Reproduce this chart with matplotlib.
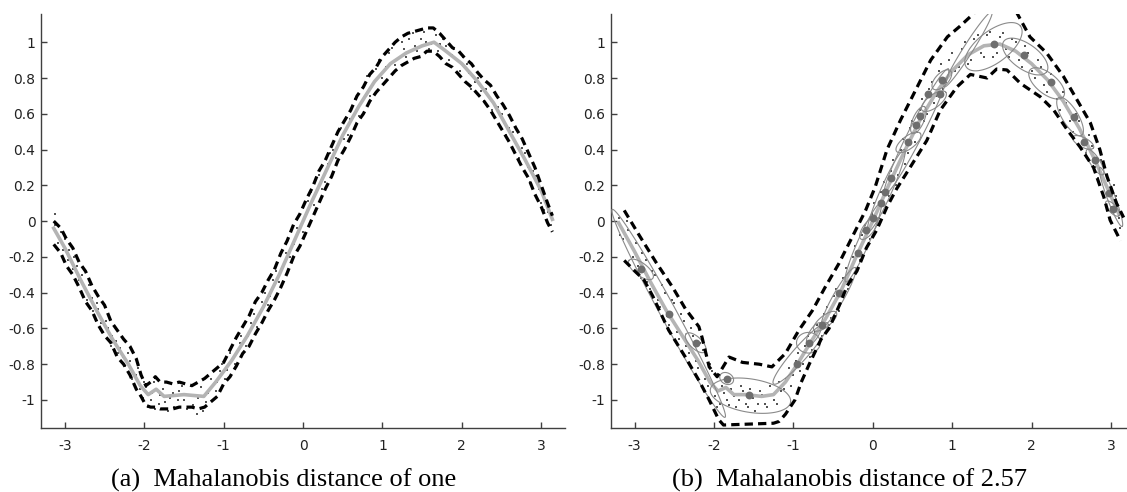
import numpy as np
import matplotlib
matplotlib.use("Agg")
import matplotlib.pyplot as plt

plt.rcParams['axes.unicode_minus'] = False

# ---- panel (a): Mahalanobis distance of one ----
xa = [-3.14, -3.0, -2.8, -2.6, -2.4, -2.2, -2.05, -1.95, -1.85, -1.75, -1.5, -1.25,
      -1.1, -0.9, -0.7, -0.5, -0.3, -0.1, 0.1, 0.3, 0.5, 0.7, 0.9, 1.1, 1.3, 1.5,
      1.65, 1.8, 2.0, 2.2, 2.4, 2.6, 2.8, 3.0, 3.14]
mean_a = [-0.04, -0.15, -0.33, -0.50, -0.66, -0.80, -0.92, -0.97, -0.94, -0.98, -0.97, -0.98,
          -0.90, -0.78, -0.64, -0.48, -0.30, -0.10, 0.10, 0.29, 0.48, 0.64, 0.78, 0.88, 0.94, 0.98,
          1.00, 0.95, 0.88, 0.78, 0.66, 0.50, 0.34, 0.17, 0.01]

env_a_x = [-3.14, -3.05, -2.98, -2.9, -2.82, -2.74, -2.66, -2.58, -2.5, -2.42, -2.34, -2.26,
           -2.18, -2.1, -2.04, -1.98, -1.92, -1.86, -1.8, -1.72, -1.64, -1.56, -1.48, -1.4,
           -1.32, -1.24, -1.16, -1.08, -1.0, -0.92, -0.84, -0.76, -0.68, -0.6, -0.52, -0.44,
           -0.36, -0.28, -0.2, -0.12, -0.04, 0.04, 0.12, 0.2, 0.28, 0.36, 0.44, 0.52, 0.6, 0.68,
           0.76, 0.84, 0.92, 1.0, 1.08, 1.16, 1.24, 1.32, 1.4, 1.48, 1.56, 1.64, 1.72, 1.8,
           1.88, 1.96, 2.04, 2.12, 2.2, 2.28, 2.36, 2.44, 2.52, 2.6, 2.68, 2.76, 2.84, 2.92,
           3.0, 3.08, 3.14]
upper_a = [0.0, -0.04, -0.10, -0.15, -0.23, -0.28, -0.36, -0.42, -0.47, -0.56, -0.61, -0.66,
           -0.70, -0.77, -0.86, -0.92, -0.90, -0.87, -0.90, -0.90, -0.91, -0.90, -0.91, -0.92,
           -0.90, -0.88, -0.85, -0.82, -0.79, -0.72, -0.65, -0.59, -0.53, -0.45, -0.40, -0.33,
           -0.27, -0.18, -0.11, -0.02, 0.04, 0.12, 0.19, 0.28, 0.34, 0.42, 0.50, 0.56, 0.62, 0.70,
           0.75, 0.82, 0.86, 0.92, 0.96, 1.00, 1.03, 1.05, 1.06, 1.07, 1.08, 1.08, 1.05, 1.01,
           0.97, 0.95, 0.91, 0.88, 0.83, 0.79, 0.76, 0.70, 0.65, 0.59, 0.52, 0.46, 0.38, 0.30,
           0.20, 0.10, 0.03]
lower_a = [-0.13, -0.18, -0.25, -0.30, -0.37, -0.45, -0.50, -0.58, -0.64, -0.68, -0.76, -0.80,
           -0.86, -0.94, -0.98, -1.03, -1.04, -1.04, -1.05, -1.05, -1.05, -1.04, -1.04, -1.04,
           -1.05, -1.04, -1.01, -0.98, -0.91, -0.87, -0.81, -0.74, -0.70, -0.63, -0.57, -0.50,
           -0.44, -0.37, -0.29, -0.20, -0.14, -0.06, 0.02, 0.10, 0.18, 0.25, 0.34, 0.40, 0.47, 0.55,
           0.60, 0.67, 0.72, 0.76, 0.80, 0.84, 0.87, 0.89, 0.91, 0.92, 0.95, 0.95, 0.92, 0.88,
           0.86, 0.82, 0.78, 0.75, 0.71, 0.67, 0.62, 0.56, 0.50, 0.44, 0.37, 0.30, 0.24, 0.15,
           0.08, -0.01, -0.06]

dots_a_x = [-3.13, -3.10, -3.05, -3.02, -2.95, -2.90, -2.85, -2.78, -2.72, -2.66, -2.60, -2.55,
            -2.48, -2.42, -2.35, -2.30, -2.24, -2.18, -2.12, -2.08, -2.02, -1.98, -1.92, -1.88,
            -1.82, -1.76, -1.70, -1.64, -1.58, -1.52, -1.46, -1.40, -1.34, -1.28, -1.22, -1.16,
            -1.10, -1.04, -0.98, -0.92, -0.86, -0.80, -0.72, -0.66, -0.58, -0.52, -0.44, -0.38,
            -0.30, -0.22, -0.16, -0.08, 0.0, 0.06, 0.14, 0.20, 0.28, 0.34, 0.42, 0.48, 0.56, 0.62,
            0.70, 0.76, 0.84, 0.92, 1.00, 1.08, 1.16, 1.24, 1.30, 1.38, 1.44, 1.52, 1.58, 1.64,
            1.70, 1.76, 1.84, 1.90, 1.98, 2.06, 2.12, 2.20, 2.28, 2.34, 2.42, 2.50, 2.56, 2.64,
            2.72, 2.80, 2.86, 2.94, 3.00, 3.06, 3.12,
            -3.12, -3.08, -3.00, -2.96, -2.88, -2.82, -2.76, -2.70, -2.64, -2.58, -2.52, -2.46,
            -2.40, -2.33, -2.27, -2.21, -2.15, -2.10, -2.05, -2.00, -1.95, -1.90, -1.86, -1.80,
            -1.74, -1.68, -1.62, -1.56, -1.50, -1.44, -1.38, -1.32, -1.26, -1.20, -1.14, -1.08,
            -1.02, -0.96, -0.90, -0.84, -0.78, -0.69, -0.62, -0.55, -0.48, -0.41, -0.34, -0.26,
            -0.12, 0.03, 0.10, 0.24, 0.31, 0.38, 0.45, 0.52, 0.59, 0.66, 0.73, 0.80, 0.88, 0.96,
            1.04, 1.12, 1.20, 1.27, 1.34, 1.41, 1.48, 1.55, 1.61, 1.67, 1.73, 1.80, 1.87, 1.94,
            2.02, 2.09, 2.16, 2.24, 2.31, 2.38, 2.46, 2.53, 2.60, 2.68, 2.76, 2.83, 2.90, 2.97,
            3.03, 3.09]
dots_a_y = [0.04, -0.07, -0.06, -0.16, -0.16, -0.27, -0.25, -0.30, -0.44, -0.43, -0.46, -0.57,
            -0.56, -0.70, -0.67, -0.71, -0.81, -0.78, -0.93, -0.82, -0.99, -0.93, -1.00, -0.90,
            -1.02, -0.94, -1.06, -0.96, -1.00, -0.92, -1.05, -0.98, -1.08, -0.93, -1.01, -0.88,
            -0.95, -0.84, -0.88, -0.74, -0.80, -0.68, -0.70, -0.57, -0.59, -0.45, -0.47, -0.33,
            -0.34, -0.18, -0.20, -0.04, -0.06, 0.11, 0.09, 0.26, 0.22, 0.38, 0.35, 0.52, 0.48, 0.63,
            0.59, 0.75, 0.70, 0.85, 0.80, 0.94, 0.87, 1.00, 0.92, 1.05, 0.95, 1.06, 0.96, 1.08,
            0.95, 1.02, 0.90, 0.96, 0.84, 0.88, 0.74, 0.80, 0.67, 0.70, 0.58, 0.60, 0.48, 0.50,
            0.35, 0.38, 0.22, 0.25, 0.10, 0.12, -0.02,
            -0.02, -0.12, -0.10, -0.22, -0.20, -0.33, -0.37, -0.36, -0.50, -0.49, -0.62, -0.60,
            -0.64, -0.74, -0.76, -0.74, -0.88, -0.86, -0.94, -0.90, -1.04, -0.96, -1.05, -0.97,
            -1.01, -0.99, -1.04, -0.95, -1.00, -0.97, -1.03, -0.99, -1.06, -0.96, -0.92, -0.90,
            -0.80, -0.83, -0.77, -0.74, -0.64, -0.64, -0.52, -0.52, -0.40, -0.42, -0.28, -0.27,
            -0.13, 0.02, 0.16, 0.18, 0.32, 0.40, 0.43, 0.46, 0.57, 0.68, 0.66, 0.81, 0.76, 0.90,
            0.86, 0.97, 0.91, 0.96, 1.02, 0.98, 1.02, 1.00, 0.99, 1.04, 0.99, 0.98, 0.93, 0.90,
            0.92, 0.83, 0.78, 0.73, 0.74, 0.62, 0.64, 0.55, 0.52, 0.43, 0.41, 0.30, 0.28, 0.18,
            0.06, 0.05]

# ---- panel (b): Mahalanobis distance of 2.57 ----
xb = [-3.20, -3.0, -2.8, -2.6, -2.4, -2.2, -2.05, -1.95, -1.85, -1.75, -1.6, -1.4, -1.25,
      -1.1, -0.95, -0.8, -0.6, -0.4, -0.2, 0.0, 0.2, 0.4, 0.6, 0.8, 1.0, 1.2, 1.4, 1.6, 1.8,
      2.0, 2.2, 2.4, 2.6, 2.8, 3.0, 3.1]
mean_b = [-0.01, -0.17, -0.34, -0.50, -0.64, -0.78, -0.90, -0.95, -0.93, -0.97, -0.97, -0.98,
          -0.97, -0.90, -0.80, -0.69, -0.55, -0.39, -0.19, 0.0, 0.20, 0.39, 0.57, 0.72, 0.84,
          0.93, 0.98, 0.99, 0.95, 0.88, 0.79, 0.67, 0.52, 0.34, 0.14, 0.04]

upper_b_x = [-3.13, -2.94, -2.73, -2.52, -2.36, -2.19, -2.15, -2.06, -1.96, -1.81, -1.64, -1.43,
             -1.27, -1.10, -0.93, -0.76, -0.60, -0.43, -0.26, -0.09, 0.03, 0.18, 0.35, 0.56, 0.73,
             0.94, 1.10, 1.27, 1.35, 1.75, 1.82, 1.98, 2.19, 2.40, 2.57, 2.74, 2.86, 2.95, 3.07, 3.16]
upper_b_y = [0.06, -0.08, -0.23, -0.37, -0.49, -0.59, -0.65, -0.815, -0.87, -0.76, -0.79, -0.80,
             -0.815, -0.74, -0.61, -0.50, -0.37, -0.24, -0.09, 0.06, 0.19, 0.40, 0.565, 0.75, 0.90,
             1.03, 1.09, 1.16, 1.22, 1.22, 1.16, 1.03, 0.94, 0.81, 0.68, 0.55, 0.40, 0.25, 0.10, 0.02]
lower_b_x = [-3.13, -2.88, -2.77, -2.57, -2.36, -2.19, -2.06, -1.94, -1.88, -1.25, -1.18, -1.10,
             -0.98, -0.90, -0.80, -0.65, -0.55, -0.42, -0.32, -0.20, -0.08, 0.05, 0.18, 0.30, 0.47,
             0.68, 0.85, 1.06, 1.23, 1.44, 1.56, 1.69, 1.86, 2.11, 2.28, 2.45, 2.61, 2.78, 2.91,
             2.99, 3.12]
lower_b_y = [-0.22, -0.33, -0.42, -0.61, -0.76, -0.89, -1.0, -1.11, -1.14, -1.13, -1.12, -1.08,
             -1.0, -0.90, -0.80, -0.66, -0.60, -0.47, -0.36, -0.28, -0.15, -0.05, 0.08, 0.18, 0.30,
             0.45, 0.62, 0.75, 0.82, 0.80, 0.85, 0.845, 0.77, 0.695, 0.62, 0.51, 0.415, 0.30,
             0.135, 0.005, -0.11]

dots_b_x = [-3.20, -3.15, -3.08, -3.02, -2.98, -2.92, -2.86, -2.80, -2.74, -2.68, -2.62, -2.56,
            -2.50, -2.44, -2.38, -2.32, -2.26, -2.20, -2.14, -2.08, -2.02, -1.96, -1.90, -1.84,
            -1.78, -1.72, -1.66, -1.60, -1.54, -1.48, -1.42, -1.36, -1.30, -1.24, -1.18, -1.12,
            -1.06, -1.00, -0.94, -0.88, -0.82, -0.76, -0.70, -0.64, -0.58, -0.52, -0.46, -0.40,
            -0.34, -0.28, -0.22, -0.16, -0.10, -0.04, 0.02, 0.08, 0.14, 0.20, 0.26, 0.32, 0.38,
            0.44, 0.50, 0.56, 0.62, 0.68, 0.74, 0.80, 0.86, 0.92, 1.00, 1.08, 1.16, 1.24, 1.32,
            1.40, 1.48, 1.56, 1.64, 1.72, 1.80, 1.88, 1.96, 2.04, 2.12, 2.20, 2.28, 2.36, 2.44,
            2.52, 2.60, 2.68, 2.76, 2.84, 2.92, 3.00, 3.06, 3.12,
            -3.18, -3.10, -3.04, -2.96, -2.90, -2.84, -2.78, -2.71, -2.65, -2.59, -2.53, -2.47,
            -2.41, -2.35, -2.29, -2.23, -2.17, -2.11, -2.05, -1.99, -1.93, -1.87, -1.81, -1.75,
            -1.69, -1.63, -1.57, -1.51, -1.45, -1.39, -1.33, -1.27, -1.21, -1.15, -1.09, -1.03,
            -0.97, -0.91, -0.85, -0.79, -0.73, -0.67, -0.61, -0.55, -0.49, -0.43, -0.37, -0.31,
            -0.25, -0.19, -0.13, -0.07, -0.01, 0.05, 0.11, 0.17, 0.23, 0.29, 0.35, 0.41, 0.47,
            0.53, 0.59, 0.65, 0.71, 0.77, 0.83, 0.89, 0.96, 1.04, 1.12, 1.20, 1.28, 1.36, 1.44,
            1.52, 1.60, 1.68, 1.76, 1.84, 1.92, 2.00, 2.08, 2.16, 2.24, 2.32, 2.40, 2.48, 2.56,
            2.64, 2.72, 2.80, 2.88, 2.96, 3.04, 3.10]
dots_b_y = [0.02, -0.10, -0.05, -0.20, -0.12, -0.32, -0.22, -0.38, -0.30, -0.48, -0.40, -0.58,
            -0.46, -0.66, -0.56, -0.74, -0.64, -0.82, -0.72, -0.92, -0.84, -1.04, -0.92, -1.00,
            -0.94, -1.04, -0.92, -1.02, -0.94, -1.06, -0.95, -1.02, -0.92, -1.00, -0.90, -0.94,
            -0.82, -0.86, -0.74, -0.80, -0.64, -0.72, -0.58, -0.64, -0.48, -0.54, -0.38, -0.46,
            -0.26, -0.34, -0.14, -0.22, -0.02, -0.10, 0.10, 0.02, 0.22, 0.14, 0.34, 0.26, 0.46,
            0.38, 0.56, 0.50, 0.68, 0.60, 0.78, 0.70, 0.88, 0.78, 0.94, 0.86, 1.00, 0.90, 1.04,
            0.92, 1.06, 0.94, 1.05, 0.92, 1.00, 0.86, 0.94, 0.80, 0.86, 0.72, 0.78, 0.62, 0.66,
            0.50, 0.56, 0.38, 0.42, 0.24, 0.30, 0.08, 0.14, -0.04,
            -0.08, 0.00, -0.14, -0.25, -0.18, -0.34, -0.28, -0.44, -0.36, -0.53, -0.44, -0.62,
            -0.52, -0.70, -0.60, -0.78, -0.68, -0.88, -0.80, -0.98, -1.02, -0.96, -1.03, -0.98,
            -1.00, -0.95, -1.04, -0.99, -1.02, -0.97, -1.04, -0.97, -1.02, -0.95, -0.88, -0.92,
            -0.78, -0.84, -0.70, -0.76, -0.62, -0.68, -0.52, -0.58, -0.42, -0.50, -0.32, -0.38,
            -0.20, -0.26, -0.08, -0.14, 0.04, -0.02, 0.16, 0.08, 0.28, 0.20, 0.40, 0.32, 0.52,
            0.44, 0.62, 0.56, 0.74, 0.66, 0.84, 0.74, 0.90, 0.84, 0.96, 0.88, 1.02, 0.94, 1.04,
            0.92, 1.03, 0.96, 1.02, 0.90, 0.98, 0.84, 0.90, 0.76, 0.82, 0.68, 0.72, 0.56, 0.60,
            0.44, 0.48, 0.30, 0.34, 0.16, 0.20, 0.02]

centers_x = [-2.92, -2.56, -2.23, -1.84, -1.56, -0.95, -0.80, -0.64, -0.42, -0.19, -0.08, 0.0,
             0.10, 0.16, 0.23, 0.45, 0.54, 0.59, 0.70, 0.85, 0.87, 1.53, 1.90, 2.24, 2.53, 2.66,
             2.80, 2.97, 3.03]
centers_y = [-0.27, -0.52, -0.68, -0.88, -0.97, -0.80, -0.68, -0.58, -0.40, -0.18, -0.05, 0.02,
             0.10, 0.16, 0.24, 0.44, 0.54, 0.59, 0.71, 0.71, 0.79, 0.99, 0.93, 0.78, 0.58, 0.44,
             0.34, 0.155, 0.065]

# ellipses: centre, one end of the long axis, half short axis (in x units)
ell_cx = [-2.57, -2.92, -2.23, -1.84, -1.54, -0.91, -0.81, -0.74, -0.60, -0.43, -0.12, -0.05,
          0.17, 0.45, 0.575, 0.77, 0.87, 0.55, 1.20, 1.52, 1.92, 2.19, 2.485, 2.65, 2.80, 3.00, 3.02]
ell_cy = [-0.516, -0.27, -0.68, -0.88, -0.976, -0.74, -0.68, -0.63, -0.56, -0.425, -0.12, -0.04,
          0.17, 0.44, 0.565, 0.67, 0.79, 0.50, 0.96, 0.975, 0.92, 0.77, 0.585, 0.44, 0.33, 0.135, 0.07]
ell_ex = [-3.28, -3.07, -2.35, -1.92, -1.035, -0.57, -0.66, -0.66, -0.46, -0.22, 0.10, 0.05,
          0.40, 0.60, 0.65, 0.92, 0.98, 0.95, 1.50, 1.86, 2.19, 2.40, 2.63, 2.78, 2.90, 3.14, 3.10]
ell_ey = [0.065, -0.22, -0.63, -0.86, -1.012, -0.57, -0.68, -0.57, -0.51, -0.26, 0.10, 0.02,
          0.40, 0.49, 0.64, 0.72, 0.84, 0.85, 1.17, 1.09, 0.835, 0.695, 0.48, 0.41, 0.26, -0.03, 0.03]
ell_b = [0.10, 0.08, 0.075, 0.07, 0.21, 0.09, 0.13, 0.06, 0.07, 0.07, 0.07, 0.07,
         0.07, 0.08, 0.07, 0.08, 0.08, 0.09, 0.06, 0.20, 0.16, 0.13, 0.10, 0.06, 0.06, 0.05, 0.05]

yticks = [-1, -0.8, -0.6, -0.4, -0.2, 0, 0.2, 0.4, 0.6, 0.8, 1]
ytick_labels = ['-1', '-0.8', '-0.6', '-0.4', '-0.2', '0', '0.2', '0.4', '0.6', '0.8', '1']
xticks = [-3, -2, -1, 0, 1, 2, 3]
xtick_labels = ['-3', '-2', '-1', '0', '1', '2', '3']
captions = ['(a)  Mahalanobis distance of one', '(b)  Mahalanobis distance of 2.57']

DASH = (0, (2.6, 1.6))
AXC = '#404040'


def style_axes(ax):
    ax.set_xlim(-3.3, 3.3)
    ax.set_ylim(-1.155, 1.158)
    for s in ['top', 'right']:
        ax.spines[s].set_visible(False)
    for s in ['left', 'bottom']:
        ax.spines[s].set_color(AXC)
        ax.spines[s].set_linewidth(1.0)
    ax.set_xticks(xticks)
    ax.set_xticklabels(xtick_labels)
    ax.set_yticks(yticks)
    ax.set_yticklabels(ytick_labels)
    ax.tick_params(direction='in', length=4, width=1, color=AXC, labelsize=10,
                   labelcolor='#222222')
    ax.tick_params(axis='x', pad=8)
    ax.tick_params(axis='y', pad=4)


def draw_ellipse(ax, cx, cy, ex, ey, b):
    # build the outline in pixel space so the short axis is really perpendicular
    c = ax.transData.transform((cx, cy))
    e = ax.transData.transform((ex, ey))
    sx = ax.transData.transform((1, 0))[0] - ax.transData.transform((0, 0))[0]
    u = e - c
    n = np.array([-u[1], u[0]]) / np.hypot(u[0], u[1])
    v = n * b * sx
    t = np.linspace(0, 2 * np.pi, 120)
    pts = c + np.outer(np.cos(t), u) + np.outer(np.sin(t), v)
    d = ax.transData.inverted().transform(pts)
    ax.plot(d[:, 0], d[:, 1], color='#8a8a8a', lw=0.8, zorder=3)


fig = plt.figure(figsize=(11.27, 4.92), dpi=100)
ax1 = fig.add_axes([0.0364, 0.1307, 0.4650, 0.8409])
ax2 = fig.add_axes([0.5419, 0.1307, 0.4650, 0.8409])
for ax in (ax1, ax2):
    style_axes(ax)

# panel a
ax1.scatter(dots_a_x, dots_a_y, s=2, c='#555555', marker='s', linewidths=0, zorder=2)
ax1.plot(xa, mean_a, color='#b4b4b4', lw=2.6, zorder=3)
ax1.plot(env_a_x, upper_a, color='black', lw=2.3, linestyle=DASH, zorder=4)
ax1.plot(env_a_x, lower_a, color='black', lw=2.3, linestyle=DASH, zorder=4)

# panel b
ax2.scatter(dots_b_x, dots_b_y, s=2, c='#555555', marker='s', linewidths=0, zorder=2)
ax2.plot(xb, mean_b, color='#b4b4b4', lw=2.6, zorder=2)
for i in range(len(ell_cx)):
    draw_ellipse(ax2, ell_cx[i], ell_cy[i], ell_ex[i], ell_ey[i], ell_b[i])
ax2.scatter(centers_x, centers_y, s=32, c='#6e6e6e', linewidths=0, zorder=4)
ax2.plot(upper_b_x, upper_b_y, color='black', lw=2.3, linestyle=DASH, zorder=5)
ax2.plot(lower_b_x, lower_b_y, color='black', lw=2.3, linestyle=DASH, zorder=5)

fig.text(0.2516, 0.024, captions[0], ha='center', va='center', fontsize=19,
         family='Liberation Serif')
fig.text(0.7542, 0.024, captions[1], ha='center', va='center', fontsize=19,
         family='Liberation Serif')

fig.savefig('out.png', dpi=100)
